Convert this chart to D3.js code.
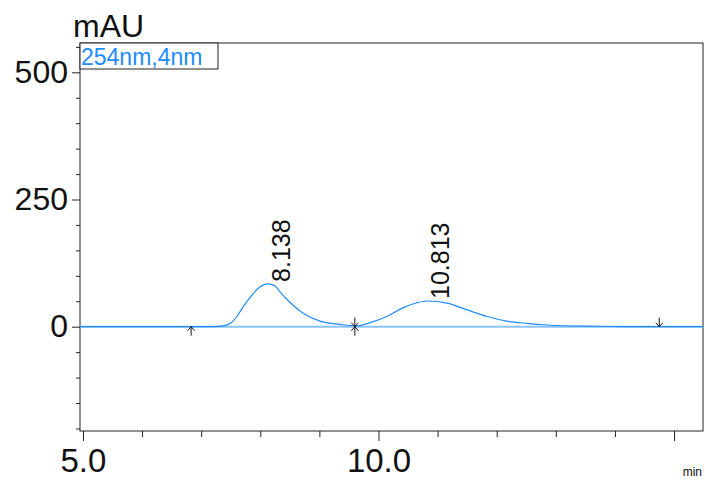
<!DOCTYPE html>
<html>
<head>
<meta charset="utf-8">
<script src="https://cdn.jsdelivr.net/npm/d3@7"></script>
<style>
  html, body { margin: 0; padding: 0; background: #fff; }
  svg { display: block; font-family: "Liberation Sans", Arial, sans-serif; }
</style>
</head>
<body>
<svg id="chart" width="705" height="482"></svg>
<script>
// ---- data ----
const times  = [4.95, 5.29, 6.13, 6.98, 7.20, 7.33, 7.44, 7.53, 7.61, 7.71, 7.86, 7.99, 8.13, 8.25, 8.33, 8.50, 8.72, 9.01, 9.35, 9.62, 9.86, 10.14, 10.41, 10.65, 10.82, 11.16, 11.50, 11.84, 12.17, 12.51, 12.85, 13.41, 14.09, 14.75, 15.49];
const signal = [0, 0, 0, 0, 0.3, 1.0, 3.5, 10, 21, 39, 62, 78, 84, 80, 69, 48, 27, 11, 4.5, 1.5, 8, 20, 37, 47, 50.5, 46.5, 33, 20, 11, 6.5, 3.3, 1, 0.3, 0, 0];
const peakTimes  = [8.138, 10.813];
const peakHeights = [84, 50.5];
const peakLabels = ["8.138", "10.813"];
const baselineTimes = [6.83, 9.60, 14.75];
const markerTypes = ["up", "both", "down"];
const yMajorTicks = [0, 250, 500];
const yMinorTicks = [-200, -150, -100, -50, 50, 100, 150, 200, 300, 350, 400, 450, 550];
const xMajorTicks = [5, 10, 15];
const xMinorTicks = [6, 7, 8, 9, 11, 12, 13, 14];
const xTickLabels = ["5.0", "10.0", ""];
const yLabel = "mAU";
const xLabel = "min";
const legendText = "254nm,4nm";

// ---- layout ----
const L = 80, R = 703, T = 43, B = 431;
const svg = d3.select("#chart");
const x = d3.scaleLinear().domain([4.95, 15.49]).range([L, R]);
const y = d3.scaleLinear().domain([-205, 557.6]).range([B, T]);

const blue = "#1e8cff";
const axisColor = "#222";

// frame
svg.append("rect").attr("x", L).attr("y", T).attr("width", R - L).attr("height", B - T)
  .attr("fill", "none").attr("stroke", axisColor).attr("stroke-width", 1);

// y axis
const yAxisMajor = d3.axisLeft(y).tickValues(yMajorTicks).tickSize(8).tickPadding(4).tickFormat(d3.format("d"));
const gy = svg.append("g").attr("transform", `translate(${L},0)`).call(yAxisMajor);
gy.select(".domain").remove();
gy.selectAll("text").attr("font-size", 32).attr("fill", "#111").attr("font-family", "Liberation Sans, Arial, sans-serif");
gy.selectAll("line").attr("stroke", axisColor);
const gym = svg.append("g").attr("transform", `translate(${L},0)`)
  .call(d3.axisLeft(y).tickValues(yMinorTicks).tickSize(4).tickFormat(""));
gym.select(".domain").remove();
gym.selectAll("line").attr("stroke", axisColor);

// x axis
const gx = svg.append("g").attr("transform", `translate(0,${B})`)
  .call(d3.axisBottom(x).tickValues(xMajorTicks).tickSize(10).tickPadding(8)
    .tickFormat((d, i) => xTickLabels[i]));
gx.select(".domain").remove();
gx.selectAll("text").attr("font-size", 33).attr("fill", "#111").attr("font-family", "Liberation Sans, Arial, sans-serif");
gx.selectAll("line").attr("stroke", axisColor);
const gxm = svg.append("g").attr("transform", `translate(0,${B})`)
  .call(d3.axisBottom(x).tickValues(xMinorTicks).tickSize(6).tickFormat(""));
gxm.select(".domain").remove();
gxm.selectAll("line").attr("stroke", axisColor);

// axis titles
svg.append("text").attr("x", 73).attr("y", 37).attr("font-size", 32).attr("fill", "#111").text(yLabel);
svg.append("text").attr("x", 702).attr("y", 476).attr("text-anchor", "end").attr("font-size", 12).attr("fill", "#111").text(xLabel);

// integration baseline
const bl = [[times[0], 0], [times[times.length - 1], 0]];
svg.append("path").datum(bl)
  .attr("d", d3.line().x(d => x(d[0])).y(d => y(d[1])))
  .attr("fill", "none").attr("stroke", "#8cc4f7").attr("stroke-width", 2);

// signal
svg.append("path").datum(times.map((t, i) => [t, signal[i]]))
  .attr("d", d3.line().x(d => x(d[0])).y(d => y(d[1])).curve(d3.curveMonotoneX))
  .attr("fill", "none").attr("stroke", blue).attr("stroke-width", 1.2);

// baseline markers
const mk = svg.append("g").attr("stroke", "#111").attr("stroke-width", 1).attr("fill", "none");
baselineTimes.forEach((t, i) => {
  const cx = x(t), cy = y(0);
  const type = markerTypes[i];
  if (type === "up" || type === "both") {
    mk.append("path").attr("d", `M${cx},${cy + 9} L${cx},${cy} M${cx - 3.5},${cy + 4} L${cx},${cy} L${cx + 3.5},${cy + 4}`);
  }
  if (type === "down" || type === "both") {
    mk.append("path").attr("d", `M${cx},${cy - 9} L${cx},${cy} M${cx - 3.5},${cy - 4} L${cx},${cy} L${cx + 3.5},${cy - 4}`);
  }
});

// peak labels
peakTimes.forEach((t, i) => {
  svg.append("text")
    .attr("transform", `translate(${x(t) + 22},${y(peakHeights[i]) - 2}) rotate(-90)`)
    .attr("font-size", 25).attr("fill", "#111").text(peakLabels[i]);
});

// legend box
svg.append("rect").attr("x", L).attr("y", T).attr("width", 138).attr("height", 26)
  .attr("fill", "#fff").attr("stroke", axisColor).attr("stroke-width", 1);
svg.append("text").attr("x", 81).attr("y", 65).attr("font-size", 23).attr("fill", blue).text(legendText);
</script>
</body>
</html>
